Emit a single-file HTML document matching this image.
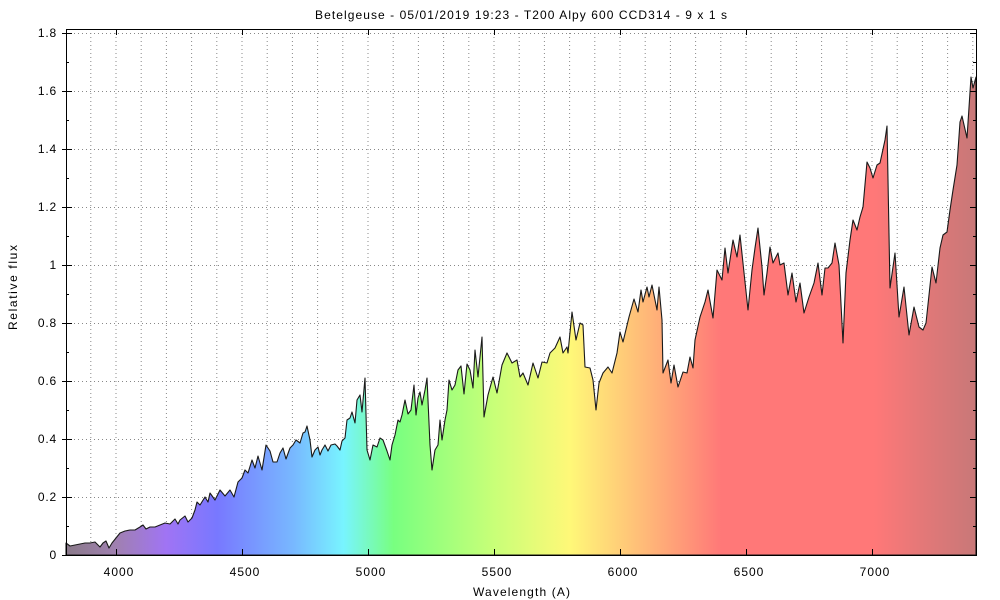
<!DOCTYPE html>
<html><head><meta charset="utf-8"><style>
html,body{margin:0;padding:0;background:#fff;}
svg{display:block;font-family:"Liberation Sans",sans-serif;}
</style></head><body>
<svg width="1000" height="600" viewBox="0 0 1000 600" xmlns="http://www.w3.org/2000/svg">
<defs>
<linearGradient id="g" gradientUnits="userSpaceOnUse" x1="66" y1="0" x2="976" y2="0">
<stop offset="0" stop-color="#8a7a8a"/>
<stop offset="0.055" stop-color="#a080b0"/>
<stop offset="0.110" stop-color="#a074f4"/>
<stop offset="0.166" stop-color="#7878ff"/>
<stop offset="0.250" stop-color="#78b8ff"/>
<stop offset="0.305" stop-color="#78f4ff"/>
<stop offset="0.360" stop-color="#78ff80"/>
<stop offset="0.470" stop-color="#c8ff78"/>
<stop offset="0.554" stop-color="#fff878"/>
<stop offset="0.638" stop-color="#ffb878"/>
<stop offset="0.720" stop-color="#ff7878"/>
<stop offset="0.888" stop-color="#ff7878"/>
<stop offset="0.944" stop-color="#e27878"/>
<stop offset="1" stop-color="#c87878"/>
</linearGradient>
</defs>
<g stroke="#888" stroke-width="1" stroke-dasharray="1,3">
<line x1="66" x2="976" y1="497.5" y2="497.5"/><line x1="66" x2="976" y1="439.5" y2="439.5"/>
<line x1="66" x2="976" y1="381.5" y2="381.5"/><line x1="66" x2="976" y1="323.5" y2="323.5"/>
<line x1="66" x2="976" y1="265.5" y2="265.5"/><line x1="66" x2="976" y1="207.5" y2="207.5"/>
<line x1="66" x2="976" y1="149.5" y2="149.5"/><line x1="66" x2="976" y1="91.5" y2="91.5"/>
<line x1="66" x2="976" y1="33.5" y2="33.5"/>
</g>
<g stroke="#888" stroke-width="1" stroke-dasharray="1,3">
<line x1="90.8" x2="90.8" y1="29" y2="555"/><line x1="116" x2="116" y1="29" y2="555"/>
<line x1="141.2" x2="141.2" y1="29" y2="555"/><line x1="166.4" x2="166.4" y1="29" y2="555"/>
<line x1="191.6" x2="191.6" y1="29" y2="555"/><line x1="216.8" x2="216.8" y1="29" y2="555"/>
<line x1="242" x2="242" y1="29" y2="555"/><line x1="267.2" x2="267.2" y1="29" y2="555"/>
<line x1="292.4" x2="292.4" y1="29" y2="555"/><line x1="317.6" x2="317.6" y1="29" y2="555"/>
<line x1="342.8" x2="342.8" y1="29" y2="555"/><line x1="368" x2="368" y1="29" y2="555"/>
<line x1="393.2" x2="393.2" y1="29" y2="555"/><line x1="418.4" x2="418.4" y1="29" y2="555"/>
<line x1="443.6" x2="443.6" y1="29" y2="555"/><line x1="468.8" x2="468.8" y1="29" y2="555"/>
<line x1="494" x2="494" y1="29" y2="555"/><line x1="519.2" x2="519.2" y1="29" y2="555"/>
<line x1="544.4" x2="544.4" y1="29" y2="555"/><line x1="569.6" x2="569.6" y1="29" y2="555"/>
<line x1="594.8" x2="594.8" y1="29" y2="555"/><line x1="620" x2="620" y1="29" y2="555"/>
<line x1="645.2" x2="645.2" y1="29" y2="555"/><line x1="670.4" x2="670.4" y1="29" y2="555"/>
<line x1="695.6" x2="695.6" y1="29" y2="555"/><line x1="720.8" x2="720.8" y1="29" y2="555"/>
<line x1="746" x2="746" y1="29" y2="555"/><line x1="771.2" x2="771.2" y1="29" y2="555"/>
<line x1="796.4" x2="796.4" y1="29" y2="555"/><line x1="821.6" x2="821.6" y1="29" y2="555"/>
<line x1="846.8" x2="846.8" y1="29" y2="555"/><line x1="872" x2="872" y1="29" y2="555"/>
<line x1="897.2" x2="897.2" y1="29" y2="555"/><line x1="922.4" x2="922.4" y1="29" y2="555"/>
<line x1="947.6" x2="947.6" y1="29" y2="555"/><line x1="972.8" x2="972.8" y1="29" y2="555"/>
</g>
<path fill="url(#g)" stroke="#1a1a1a" stroke-width="1.1" stroke-linejoin="round" d="M66,555 L66,543 70,546 75,545 80,544 85,543 90,543 95,542 100,547 103,543 106,541 109,548 112,543 116,538 120,533 125,531 130,530 135,530 140,527 143,525 146,529 150,527 155,527 160,525 165,523 170,524 175,519 178,524 180,520 185,516 188,522 192,518 195,510 197,502 200,505 205,497 208,502 210,493 215,500 220,490 225,496 230,490 234,497 238,482 242,478 245,470 248,473 252,460 255,468 258,456 262,470 266,445 270,451 273,462 277,462 280,453 283,448 286,459 290,448 293,445 296,440 300,443 303,433 305,432 307,426 310,440 312,457 315,450 318,447 320,455 322,450 325,445 328,451 331,445 335,444 337,446 340,450 342,441 345,438 347,420 350,418 352,412 355,423 357,400 360,395 362,412 365,378 367,450 370,460 373,445 377,447 380,438 383,440 387,451 390,460 392,445 395,435 398,420 400,422 402,415 405,400 408,414 411,410 414,385 416,415 418,398 420,392 422,405 425,390 427,378 430,445 432,470 435,450 438,445 440,420 442,440 445,420 447,410 449,380 452,390 455,385 458,370 461,366 464,394 467,364 470,370 473,388 475,350 478,377 482,337 484,417 488,395 493,377 497,393 502,365 507,353 512,363 517,360 520,377 523,373 528,385 533,363 538,378 542,362 547,363 550,353 555,348 560,337 563,353 567,347 568,353 572,312 576,340 580,323 583,325 585,367 590,368 593,380 596,410 599,383 603,373 608,367 612,373 617,353 620,332 623,342 629,317 634,299 638,312 641,290 643,302 647,287 649,297 652,285 657,310 659,287 662,320 663,373 668,360 671,383 674,365 678,387 683,372 687,373 690,357 693,368 695,340 700,317 705,302 708,290 713,318 717,270 722,280 725,248 728,273 733,240 737,257 740,235 745,282 748,310 752,270 755,248 758,228 762,267 764,295 767,273 770,247 773,263 778,253 780,265 784,263 788,295 792,273 796,302 800,283 804,313 809,297 814,283 818,263 822,295 825,268 828,268 832,263 835,243 839,265 843,343 846,273 850,240 853,220 857,230 860,217 863,207 867,162 870,168 873,178 877,165 880,163 885,140 887,126 890,288 895,253 899,317 904,287 909,335 914,307 919,327 923,330 926,323 932,267 936,283 940,248 943,235 947,232 950,210 953,190 957,165 960,122 962,116 967,138 971,77 973,88 976,77 L976,555 Z"/>
<rect x="66.5" y="29.5" width="910" height="526" fill="none" stroke="#000" stroke-width="1"/>
<g stroke="#000" stroke-width="1">
<path d="M66,33.5h6M66,91.5h6M66,149.5h6M66,207.5h6M66,265.5h6M66,323.5h6M66,381.5h6M66,439.5h6M66,497.5h6M62,33.5h4M62,91.5h4M62,149.5h4M62,207.5h4M62,265.5h4M62,323.5h4M62,381.5h4M62,439.5h4M62,497.5h4M62,555.5h4"/>
<path d="M66,62.5h3M66,120.5h3M66,178.5h3M66,236.5h3M66,294.5h3M66,352.5h3M66,410.5h3M66,468.5h3M66,526.5h3"/>
<path d="M976,33.5h-6M976,91.5h-6M976,149.5h-6M976,207.5h-6M976,265.5h-6M976,323.5h-6M976,381.5h-6M976,439.5h-6M976,497.5h-6M976,62.5h-3M976,120.5h-3M976,178.5h-3M976,236.5h-3M976,294.5h-3M976,352.5h-3M976,410.5h-3M976,468.5h-3M976,526.5h-3"/>
<path d="M116.5,555v-6M242.5,555v-6M368.5,555v-6M494.5,555v-6M620.5,555v-6M746.5,555v-6M872.5,555v-6M116.5,29v6M242.5,29v6M368.5,29v6M494.5,29v6M620.5,29v6M746.5,29v6M872.5,29v6"/>
</g>
<g font-size="12" fill="#000" text-anchor="end" letter-spacing="0.8">
<text x="57" y="37">1.8</text><text x="57" y="95">1.6</text><text x="57" y="153">1.4</text>
<text x="57" y="211">1.2</text><text x="57" y="269">1</text><text x="57" y="327">0.8</text>
<text x="57" y="385">0.6</text><text x="57" y="443">0.4</text><text x="57" y="501">0.2</text>
<text x="57" y="559">0</text>
</g>
<g font-size="12" fill="#000" text-anchor="middle" letter-spacing="1">
<text x="119" y="576">4000</text><text x="245" y="576">4500</text><text x="371" y="576">5000</text>
<text x="497" y="576">5500</text><text x="623" y="576">6000</text><text x="749" y="576">6500</text>
<text x="875" y="576">7000</text>
</g>
<g font-size="12" fill="#000">
<text x="473" y="596" textLength="97" lengthAdjust="spacing">Wavelength (A)</text>
<text x="315" y="19" textLength="412" lengthAdjust="spacing">Betelgeuse - 05/01/2019 19:23 - T200 Alpy 600 CCD314 - 9 x 1 s</text>
<text x="0" y="0" transform="translate(17,330) rotate(-90)" textLength="85" lengthAdjust="spacing">Relative flux</text>
</g>
</svg>
</body></html>
